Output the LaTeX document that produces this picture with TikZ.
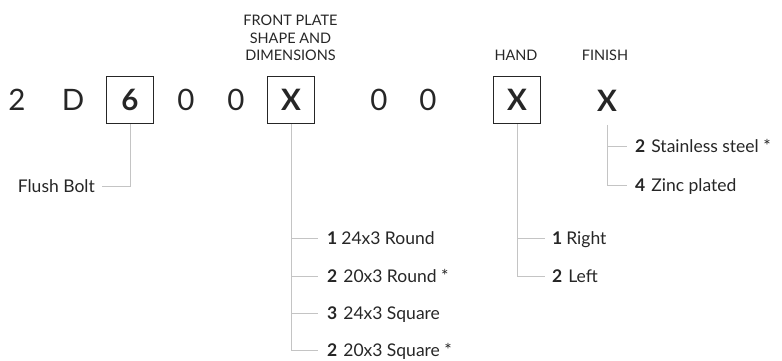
\documentclass[tikz,border=0pt]{standalone}
\usepackage{fontspec}
\setmainfont{Lato}
\definecolor{txt}{HTML}{262626}
\definecolor{connc}{HTML}{C4C4C4}
\begin{document}
\begin{tikzpicture}[x=1pt,y=-1pt,
  code/.style={font=\fontsize{29.5}{30}\selectfont, text=txt, inner sep=0pt},
  codebox/.style={draw=txt, line width=1.1pt, minimum width=47pt, minimum height=47pt, inner sep=0pt, text=txt, font=\fontsize{29.5}{30}\selectfont\bfseries},
  head/.style={font=\fontsize{14.5}{17.3}\selectfont, text=txt, align=center, inner sep=0pt},
  item/.style={font=\fontsize{17.5}{20}\selectfont, text=txt, anchor=west, inner sep=0pt, text height=12.5pt, text depth=0pt},
  conn/.style={draw=connc, line width=1pt}]
\useasboundingbox (0,0) rectangle (782,360);
% code row
\node[code] (c1) at (17,100) {2};
\node[code] (c2) at (73,100) {D};
\node[codebox] (c3) at (130,100) {6};
\node[code] (c4) at (186,100) {0};
\node[code] (c5) at (236,100) {0};
\node[codebox] (c6) at (291,100) {X};
\node[code] (c7) at (379,100) {0};
\node[code] (c8) at (428,100) {0};
\node[codebox] (c9) at (517,100) {X};
\node[code, font=\fontsize{29.5}{30}\selectfont\bfseries] (c10) at (607,101) {X};
% headers
\node[head, anchor=north] (h1) at (290.5,15) {FRONT PLATE\\SHAPE AND\\DIMENSIONS};
\node[head, anchor=base] (h2) at (516,60.5) {HAND};
\node[head, anchor=base] (h3) at (605,60.5) {FINISH};
% flush bolt
\node[item, anchor=east] (fb) at (95,186) {Flush Bolt};
\draw[conn] (c3.south) |- ([xshift=7pt]fb.east);
% front plate
\node[item] (f1) at (327,238) {\textbf{1}\hspace{4pt}24x3 Round};
\node[item] (f2) at (327,276.5) {\textbf{2}\hspace{6pt}20x3 Round *};
\node[item] (f3) at (327,313.5) {\textbf{3}\hspace{6pt}24x3 Square};
\node[item] (f4) at (327,350) {\textbf{2}\hspace{6pt}20x3 Square *};
\draw[conn] (c6.south) |- ([xshift=-9pt]f4.west);
\foreach \n in {f1,f2,f3} \draw[conn] (c6.south |- \n.west) -- ([xshift=-9pt]\n.west);
% hand
\node[item] (g1) at (552,238) {\textbf{1}\hspace{4pt}Right};
\node[item] (g2) at (552,276.5) {\textbf{2}\hspace{6pt}Left};
\draw[conn] (c9.south) |- ([xshift=-7pt]g2.west);
\draw[conn] (c9.south |- g1.west) -- ([xshift=-7pt]g1.west);
% finish
\node[item] (k1) at (635,146) {\textbf{2}\hspace{6pt}Stainless steel *};
\node[item] (k2) at (635,185) {\textbf{4}\hspace{6pt}Zinc plated};
\draw[conn] ([yshift=-13pt]c10.south) |- ([xshift=-8pt]k2.west);
\draw[conn] (c10.south |- k1.west) -- ([xshift=-8pt]k1.west);
\end{tikzpicture}
\end{document}
